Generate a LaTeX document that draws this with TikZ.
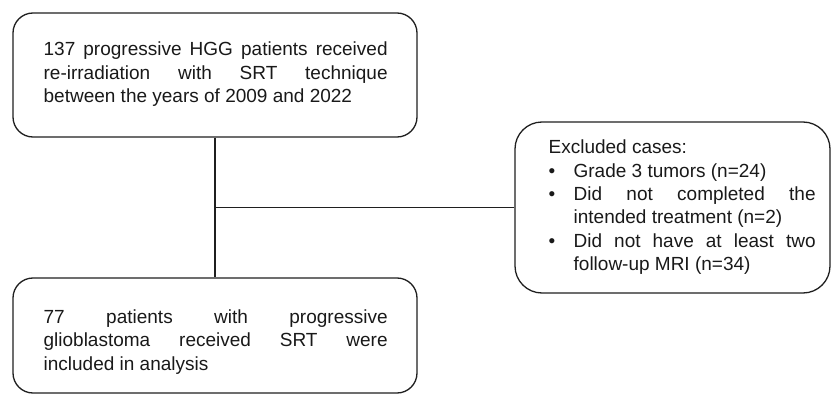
\documentclass[tikz,border=0pt]{standalone}
\usepackage{fontspec}
\setmainfont{Liberation Sans}
\tolerance=10000 \hbadness=10000
\hyphenpenalty=10000 \exhyphenpenalty=10000
\newcommand{\bulletitem}[1]{\par\noindent\hangindent=25pt\hangafter=1\makebox[25pt][l]{\textbullet}#1}
\begin{document}
\begin{tikzpicture}[x=1pt,y=-1pt,line width=1.3pt,black!88,
  every node/.style={font=\fontsize{19}{23.3}\selectfont,text=black!90,inner sep=0pt},
  flowbox/.style={draw,rounded corners=20pt},
  boxtext/.style={anchor=north west,align=justify}]
\useasboundingbox (0,0) rectangle (836,396);
\node[flowbox,minimum width=404pt,minimum height=124pt] (cohort) at (215,75) {};
\node[boxtext,text width=344pt] (cohorttext) at (43,41.5) {137 progressive HGG patients received\linebreak re-irradiation with SRT technique\linebreak between the years of 2009 and 2022};
\node[flowbox,minimum width=404pt,minimum height=115pt] (included) at (215,335.5) {};
\node[boxtext,text width=344pt] (includedtext) at (43,309) {77 patients with progressive\linebreak glioblastoma received SRT were\linebreak included in analysis};
\node[flowbox,rounded corners=27pt,minimum width=315pt,minimum height=171pt] (excluded) at (672.5,207.5) {};
\node[boxtext,text width=267pt] (excludedtext) at (548,139.5) {Excluded cases:%
  \bulletitem{Grade 3 tumors (n=24)}%
  \bulletitem{Did not completed the\linebreak intended treatment (n=2)}%
  \bulletitem{Did not have at least two\linebreak follow-up MRI (n=34)}\par};
\draw (cohort.south) -- (included.north);
\draw (excluded.west) -- (excluded.west -| cohort.south);
\end{tikzpicture}
\end{document}
